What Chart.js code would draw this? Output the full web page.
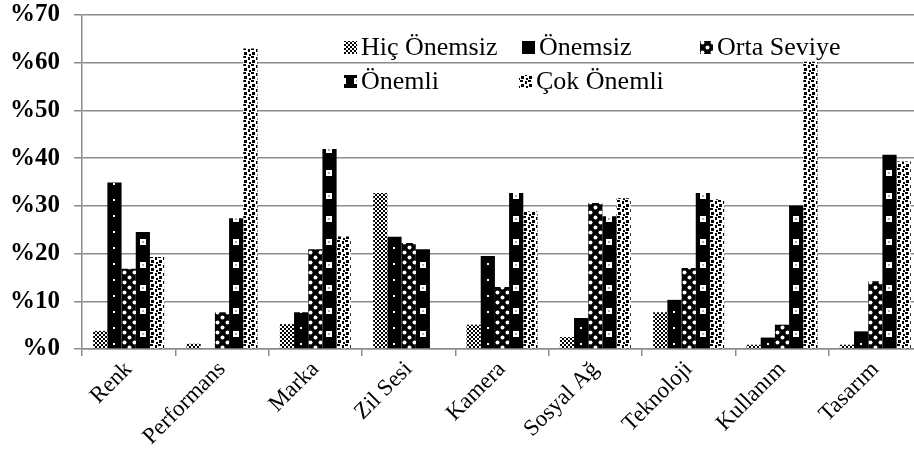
<!DOCTYPE html>
<html>
<head>
<meta charset="utf-8">
<script src="https://cdn.jsdelivr.net/npm/chart.js@4.4.0/dist/chart.umd.min.js"></script>
<style>
    html, body { margin: 0; padding: 0; background: #fff; }
    #wrap { width: 914px; height: 463px; }
</style>
</head>
<body>
<div id="wrap"><canvas id="chart" width="914" height="463"></canvas></div>
<script>
var categories = ["Renk", "Performans", "Marka", "Zil Sesi", "Kamera", "Sosyal Ağ", "Teknoloji", "Kullanım", "Tasarım"];
var seriesNames = ["Hiç Önemsiz", "Önemsiz", "Orta Seviye", "Önemli", "Çok Önemli"];
var hicOnemsiz = [3.8, 1.1, 5.2, 32.7, 5.1, 2.5, 7.7, 0.9, 0.9];
var onemsiz = [34.9, 0, 7.7, 23.5, 19.5, 6.5, 10.3, 2.4, 3.7];
var ortaSeviye = [16.8, 7.7, 20.9, 22.2, 13.0, 30.6, 17.0, 5.1, 14.2];
var onemli = [24.5, 27.4, 41.9, 20.9, 32.7, 27.8, 32.7, 30.1, 40.7];
var cokOnemli = [19.3, 63.0, 23.6, 0, 28.8, 31.6, 31.4, 60.2, 39.3];
var yTicks = [0, 10, 20, 30, 40, 50, 60, 70];

var CAT_PCT = 0.76;
var OVERHANG = 8; // original plot runs a little past the right edge of the image

var patternTiles = function(){
    function tile(w, h, draw){
        var c = document.createElement("canvas");
        c.width = w;
        c.height = h;
        draw(c.getContext("2d"));
        return c;
    }
    return [
        // Hiç Önemsiz - fine checker, reads as grey
        tile(4, 4, function(x){
            x.fillStyle = "#fff"; x.fillRect(0, 0, 4, 4);
            x.fillStyle = "#000"; x.fillRect(0, 0, 2, 2); x.fillRect(2, 2, 2, 2);
        }),
        // Önemsiz - black with small white dots down the middle
        tile(14, 16, function(x){
            x.fillStyle = "#000"; x.fillRect(0, 0, 14, 16);
            x.fillStyle = "#fff"; x.fillRect(6, 7, 2, 2);
        }),
        // Orta Seviye - black with white round checks
        tile(10, 10, function(x){
            x.fillStyle = "#000"; x.fillRect(0, 0, 10, 10);
            x.fillStyle = "#fff";
            x.beginPath(); x.arc(2.5, 2.5, 2.0, 0, Math.PI * 2); x.fill();
            x.beginPath(); x.arc(7.5, 7.5, 2.0, 0, Math.PI * 2); x.fill();
        }),
        // Önemli - black with white squares
        tile(14, 23, function(x){
            x.fillStyle = "#000"; x.fillRect(0, 0, 14, 23);
            x.fillStyle = "#fff"; x.fillRect(4, 9, 6, 6);
            x.fillStyle = "#aaa"; x.fillRect(6, 11, 2, 2);
        }),
        // Çok Önemli - white with scattered black squares
        tile(8, 8, function(x){
            x.fillStyle = "#fff"; x.fillRect(0, 0, 8, 8);
            x.fillStyle = "#000";
            x.fillRect(0, 0, 3, 2); x.fillRect(5, 1, 2, 3);
            x.fillRect(1, 4, 3, 3); x.fillRect(6, 6, 2, 2);
        })
    ];
}();

var mainCtx = document.getElementById("chart").getContext("2d");

function makePattern(i, dx){
    var p = mainCtx.createPattern(patternTiles[i], "repeat");
    if (dx && p.setTransform) p.setTransform(new DOMMatrix().translate(dx, 0));
    return p;
}

var legendFills = [0, 1, 2, 3, 4].map(function(i){ return makePattern(i, 0); });

// pattern shifted so that it starts at the left edge of each bar
function barFill(i){
    return function(context){
        var chart = context.chart;
        var xs = chart.scales && chart.scales.x;
        if (!xs || !chart.chartArea || context.dataIndex === undefined) return legendFills[i];
        var catW = xs.width / categories.length;
        var bw = catW * CAT_PCT / seriesNames.length;
        var left = xs.getPixelForValue(context.dataIndex) - bw * seriesNames.length / 2 + bw * i;
        return makePattern(i, Math.round(left));
    };
}

var allValues = [hicOnemsiz, onemsiz, ortaSeviye, onemli, cokOnemli];

// legend drawn inside the plot, two rows like the original
var legendItems = [
    {i: 0, x: 344, y: 47}, {i: 1, x: 522, y: 47}, {i: 2, x: 700, y: 47},
    {i: 3, x: 344, y: 81}, {i: 4, x: 519, y: 81}
];
var innerLegend = {
    id: "innerLegend",
    afterDatasetsDraw: function(chart){
        var ctx = chart.ctx;
        ctx.save();
        ctx.font = "26px 'Liberation Serif'";
        ctx.textBaseline = "middle";
        legendItems.forEach(function(it){
            ctx.fillStyle = legendFills[it.i];
            ctx.fillRect(it.x, it.y - 6, 13, 13);
            ctx.fillStyle = "#000";
            ctx.fillText(seriesNames[it.i], it.x + 17, it.y + 1);
        });
        ctx.restore();
    }
};

// widen the plot past the canvas edge, the last category is cut off in the original
var stretchRight = {
    id: "stretchRight",
    afterLayout: function(chart){
        var xs = chart.scales.x;
        xs.right += OVERHANG;
        xs.width += OVERHANG;
        xs.configure();
        chart.chartArea.right += OVERHANG;
        chart.chartArea.width += OVERHANG;
        chart.scales.y.configure();
    }
};

var datasets = [];
for (var i = 0; i < seriesNames.length; i++) {
    datasets.push({
        label: seriesNames[i],
        data: allValues[i],
        backgroundColor: barFill(i),
        borderWidth: 0,
        categoryPercentage: CAT_PCT,
        barPercentage: 1.0
    });
}

var gridColor = "#8c8c8c";

new Chart(mainCtx, {
    type: "bar",
    data: { labels: categories, datasets: datasets },
    options: {
        responsive: false,
        animation: false,
        layout: { padding: { top: 15, right: 0, left: 0, bottom: 0 } },
        plugins: {
            legend: { display: false },
            tooltip: { enabled: false }
        },
        scales: {
            x: {
                offset: true,
                afterFit: function(scale){
                    scale.height = 114;
                    scale.paddingLeft = 0;
                    scale.paddingRight = 0;
                },
                border: { display: true, color: gridColor, width: 1.5 },
                grid: { display: true, offset: true, drawOnChartArea: false, drawTicks: true, tickLength: 7, color: gridColor, lineWidth: 1.5 },
                ticks: {
                    autoSkip: false,
                    maxRotation: 45,
                    minRotation: 45,
                    padding: 0,
                    color: "#000",
                    font: { family: "'Liberation Serif'", size: 23 }
                }
            },
            y: {
                min: 0,
                max: 70,
                afterFit: function(scale){
                    scale.width = 82;
                    scale.paddingTop = 0;
                    scale.paddingBottom = 0;
                },
                afterBuildTicks: function(scale){
                    scale.ticks = yTicks.map(function(v){ return { value: v }; });
                },
                border: { display: true, color: gridColor, width: 1.5 },
                grid: { color: gridColor, lineWidth: 1.5, tickLength: 8 },
                ticks: {
                    padding: 14,
                    color: "#000",
                    font: { family: "'Liberation Serif'", size: 25, weight: "bold" },
                    callback: function(v){ return "%" + v; }
                }
            }
        }
    },
    plugins: [stretchRight, innerLegend]
});
</script>
</body>
</html>
